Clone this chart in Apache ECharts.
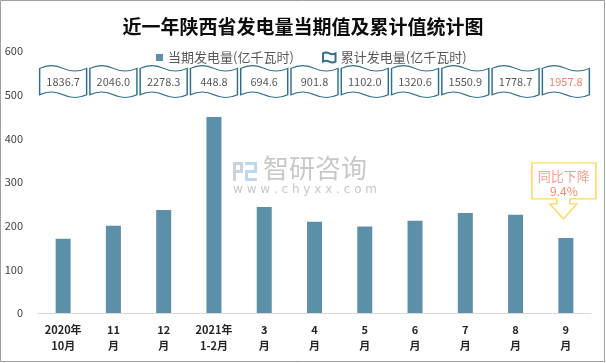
<!DOCTYPE html>
<html>
<head>
<meta charset="utf-8">
<script src="https://cdn.jsdelivr.net/npm/echarts@6/dist/echarts.min.js"></script>
<style>
html,body{margin:0;padding:0;background:#fff;}
#main{width:606px;height:363px;}
</style>
</head>
<body>
<div id="main"></div>
<script>
// ---- data ----
var categories = ['2020年\n10月', '11\n月', '12\n月', '2021年\n1-2月', '3\n月', '4\n月', '5\n月', '6\n月', '7\n月', '8\n月', '9\n月'];
var currentValues = [170, 200, 236, 448.8, 243, 209, 198, 211, 229, 225, 172];
var cumulativeValues = ['1836.7', '2046.0', '2278.3', '448.8', '694.6', '901.8', '1102.0', '1320.6', '1550.9', '1778.7', '1957.8'];
var yTicks = [0, 100, 200, 300, 400, 500, 600];
var seriesNames = ['当期发电量(亿千瓦时)', '累计发电量(亿千瓦时)'];
var annotationText = ['同比下降', '9.4%'];

// ---- layout constants ----
var boxLevel = 530; // vertical placement of the cumulative boxes (axis units)
var wavePath = 'path://M0,7 C17,-2.3 33,-2.3 50,7 C67,16.3 83,16.3 100,7 L100,73 C83,82.3 67,82.3 50,73 C33,63.7 17,63.7 0,73 Z';
var calloutPath = 'path://M0,0 L64,0 L64,36 L38,36 L38,41 L45,41 L31.5,56 L18,41 L25,41 L25,36 L0,36 Z';

var chart = echarts.init(document.getElementById('main'), null, {renderer: 'canvas'});

var boxData = categories.map(function (c, i) {
  var item = {value: [c, boxLevel], cum: cumulativeValues[i]};
  if (i === categories.length - 1) {
    item.label = {color: '#F4806B'};
  }
  return item;
});

var lastIdx = categories.length - 1;

var option = {
  backgroundColor: '#fff',
  animation: false,
  textStyle: {fontFamily: '"Noto Sans CJK SC", "Noto Sans", sans-serif'},
  title: {
    text: '近一年陕西省发电量当期值及累计值统计图',
    left: 'center',
    top: 12,
    textStyle: {fontSize: 19, fontWeight: 'bold', color: '#0d0d0d', fontFamily: '"Noto Sans CJK SC", sans-serif'}
  },
  legend: [
    {
      data: [seriesNames[0]],
      left: 151,
      top: 46,
      icon: 'rect',
      itemWidth: 7,
      itemHeight: 7,
      textStyle: {fontSize: 13, color: '#595959'}
    },
    {
      data: [seriesNames[1]],
      left: 317,
      top: 46,
      icon: wavePath,
      itemWidth: 13,
      itemHeight: 10,
      textStyle: {fontSize: 13, color: '#595959'}
    }
  ],
  grid: {left: 38, right: 15, top: 51, bottom: 50, containLabel: false},
  xAxis: {
    type: 'category',
    data: categories,
    axisTick: {show: false},
    axisLine: {lineStyle: {color: '#D9D9D9', width: 1}},
    axisLabel: {
      color: '#262626',
      fontSize: 11,
      fontWeight: 'bold',
      lineHeight: 16,
      margin: 9,
      interval: 0
    }
  },
  yAxis: {
    type: 'value',
    min: yTicks[0],
    max: yTicks[yTicks.length - 1],
    interval: yTicks[1] - yTicks[0],
    splitLine: {show: false},
    axisLine: {show: false},
    axisTick: {show: false},
    axisLabel: {color: '#404040', fontSize: 11, margin: 15}
  },
  series: [
    {
      name: seriesNames[0],
      type: 'bar',
      data: currentValues,
      barWidth: 15,
      itemStyle: {color: '#5B90A8'},
      markPoint: {
        symbol: calloutPath,
        symbolSize: [64, 56],
        symbolOffset: [-2, -47],
        itemStyle: {color: '#fff', borderColor: '#FFD966', borderWidth: 1.5},
        label: {
          show: true,
          position: 'inside',
          offset: [0, -7],
          formatter: '{a|' + annotationText[0] + '}\n{b|' + annotationText[1] + '}',
          rich: {
            a: {color: '#F4A08C', fontSize: 13, lineHeight: 16},
            b: {color: '#F08C6C', fontSize: 12, lineHeight: 16}
          }
        },
        data: [{coord: [categories[lastIdx], currentValues[lastIdx]]}]
      }
    },
    {
      name: seriesNames[1],
      type: 'scatter',
      data: boxData,
      symbol: wavePath,
      symbolSize: [47, 32],
      z: 5,
      itemStyle: {color: '#fff', borderColor: '#2F6F8F', borderWidth: 1.2, opacity: 1},
      label: {
        show: true,
        position: 'inside',
        fontSize: 11,
        color: '#595959',
        formatter: function (p) { return p.data.cum; }
      }
    }
  ],
  graphic: [
    {
      type: 'rect',
      z: 100,
      shape: {x: 0.5, y: 0.5, width: 604, height: 361},
      style: {fill: 'none', stroke: '#A0A0A0', lineWidth: 1}
    },
    {
      type: 'group',
      left: 233,
      top: 162,
      z: 0,
      children: [
        {type: 'rect', shape: {x: 0, y: 0, width: 10, height: 3}, style: {fill: '#C9D3DE'}},
        {type: 'rect', shape: {x: 0, y: 0, width: 3, height: 19}, style: {fill: '#C9D3DE'}},
        {type: 'rect', shape: {x: 0, y: 8, width: 10, height: 3}, style: {fill: '#C9D3DE'}},
        {type: 'rect', shape: {x: 7, y: 0, width: 3, height: 11}, style: {fill: '#C9D3DE'}},
        {type: 'rect', shape: {x: 12, y: 0, width: 12, height: 3}, style: {fill: '#BDD7EE'}},
        {type: 'rect', shape: {x: 21, y: 0, width: 3, height: 10}, style: {fill: '#BDD7EE'}},
        {type: 'rect', shape: {x: 12, y: 8, width: 12, height: 3}, style: {fill: '#BDD7EE'}},
        {type: 'rect', shape: {x: 12, y: 8, width: 3, height: 11}, style: {fill: '#BDD7EE'}},
        {type: 'rect', shape: {x: 12, y: 16, width: 12, height: 3}, style: {fill: '#BDD7EE'}}
      ]
    },
    {
      type: 'text',
      left: 263,
      top: 155,
      z: 0,
      style: {text: '智研咨询', fontSize: 26, fill: '#C8C8C8', fontFamily: '"Noto Sans CJK SC", sans-serif'}
    },
    {
      type: 'text',
      left: 233,
      top: 184,
      z: 0,
      style: {text: 'w w w . c h y x x . c o m', fontSize: 12, fill: '#C8C8C8', fontFamily: '"DejaVu Sans", sans-serif'}
    }
  ]
};

chart.setOption(option);
</script>
</body>
</html>
